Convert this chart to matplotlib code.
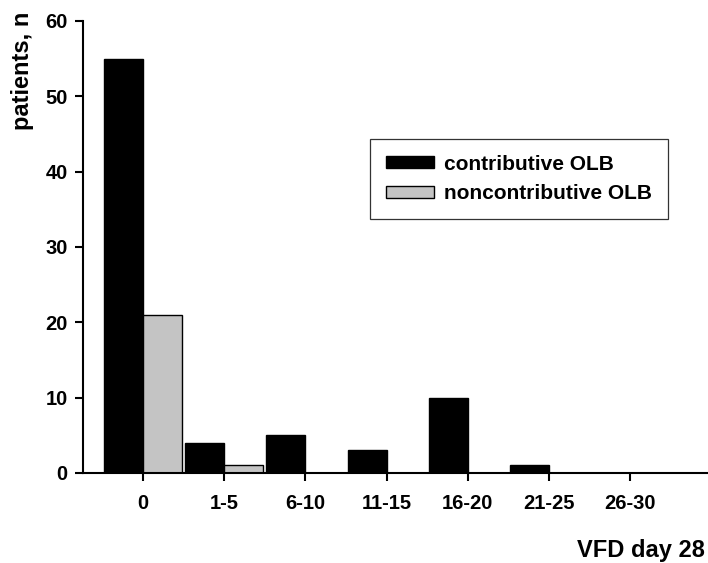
import matplotlib
matplotlib.use("Agg")
import matplotlib.pyplot as plt
import numpy as np

plt.rcParams['font.family'] = ['Liberation Sans', 'DejaVu Sans']

categories = ['0', '1-5', '6-10', '11-15', '16-20', '21-25', '26-30']
contributive = [55, 4, 5, 3, 10, 1, 0]
noncontributive = [21, 1, 0, 0, 0, 0, 0]

x = np.arange(len(categories))
w = 0.48

fig = plt.figure(figsize=(7.08, 5.63), dpi=100)
ax = fig.add_axes([83 / 708, 90 / 563, 625 / 708, 452 / 563])

ax.bar(x - w / 2, contributive, w, color='black', edgecolor='black',
       linewidth=1, label='contributive OLB')
nz = np.array(noncontributive) > 0
ax.bar(x[nz] + w / 2, np.array(noncontributive)[nz], w, color='#c4c4c4',
       edgecolor='black', linewidth=1, label='noncontributive OLB')

ax.set_xlim(-0.74, 6.96)
ax.set_ylim(0, 60)
ax.set_yticks(range(0, 61, 10))
ax.set_xticks(x)
ax.set_xticklabels(categories)

for s in ['top', 'right']:
    ax.spines[s].set_visible(False)
for s in ['left', 'bottom']:
    ax.spines[s].set_linewidth(1.5)

ax.tick_params(axis='both', direction='out', length=6, width=1.5,
               labelsize=14.5)
ax.tick_params(axis='x', pad=9)
ax.tick_params(axis='y', pad=5)
for lab in ax.get_xticklabels() + ax.get_yticklabels():
    lab.set_fontweight('bold')

fig.text(23 / 708, 1 - 12 / 563, 'patients, n', rotation=90, ha='center',
         va='top', fontsize=17, fontweight='bold')
fig.text(705 / 708, 1 - 550 / 563, 'VFD day 28', ha='right', va='center',
         fontsize=17, fontweight='bold')

leg = ax.legend(loc='upper left', bbox_to_anchor=((370 - 83) / 625, (473 - 139) / 452),
                frameon=True, fancybox=False, edgecolor='black',
                prop={'size': 15, 'weight': 'bold'}, handlelength=2.3,
                handleheight=0.5, handletextpad=0.5, borderpad=0.75,
                labelspacing=0.5, borderaxespad=0)
leg.get_frame().set_linewidth(0.9)

fig.savefig('out.png', dpi=100)
